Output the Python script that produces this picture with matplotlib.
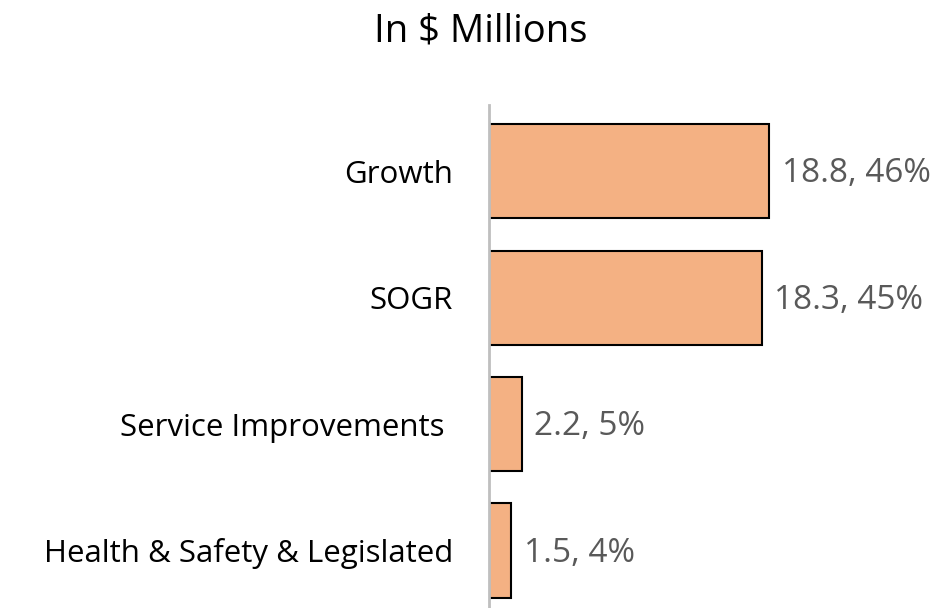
import matplotlib.pyplot as plt

# data
categories = ['Growth', 'SOGR', 'Service Improvements ', 'Health & Safety & Legislated']
values = [18.8, 18.3, 2.2, 1.5]
shares = ['46%', '45%', '5%', '4%']

plt.rcParams['font.family'] = ['Open Sans', 'DejaVu Sans']

fig = plt.figure(figsize=(9.53, 6.08), dpi=100)
ax = fig.add_axes([0.513, 0.0, 0.487, 0.827])

pos = list(range(len(categories)))
ax.barh(pos, values, height=0.745, color='#F4B183', edgecolor='black', linewidth=1.5)

for p, v, s in zip(pos, values, shares):
    ax.text(v + 0.85, p + 0.02, f'{v}, {s}', va='center', ha='left', fontsize=24, color='#595959')

ax.set_ylim(3.455, -0.522)
ax.set_xlim(0, 31.14)
ax.set_yticks(pos)
ax.set_yticklabels(categories, fontsize=22.5, color='black')
ax.tick_params(axis='y', length=0, pad=26)
ax.set_xticks([])
for side in ['top', 'right', 'bottom']:
    ax.spines[side].set_visible(False)
ax.spines['left'].set_color('#BFBFBF')
ax.spines['left'].set_linewidth(2)

fig.text(0.504, 0.948, 'In $ Millions', ha='center', va='center', fontsize=27.5, color='black')

plt.savefig('out.png')
